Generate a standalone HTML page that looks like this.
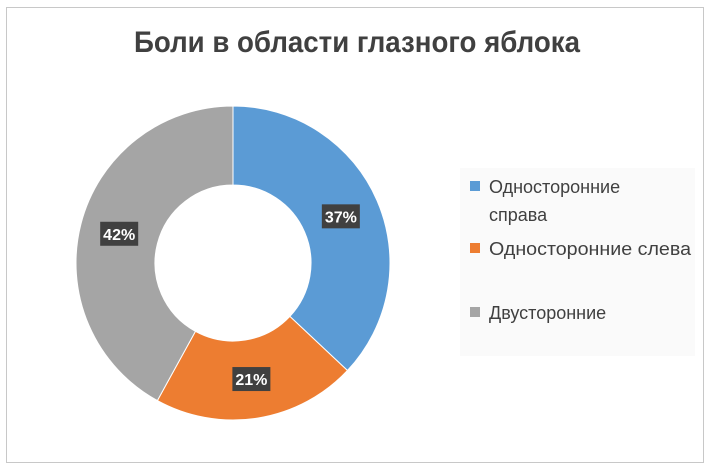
<!DOCTYPE html>
<html><head><meta charset="utf-8"><style>
body{margin:0;background:#fff;}
svg{display:block;font-family:"Liberation Sans","DejaVu Sans",sans-serif;}
</style></head><body>
<svg width="711" height="470" viewBox="0 0 711 470">
<rect x="6.5" y="7.5" width="697" height="455" fill="#fff" stroke="#c8c8c8"/>
<text x="357" y="52" text-anchor="middle" font-size="30" font-weight="bold" fill="#404040" textLength="446" lengthAdjust="spacingAndGlyphs">Боли в области глазного яблока</text>
<g id="donut"></g>
<g id="labels"></g>
<rect x="460" y="168" width="235" height="188" fill="#fafafa"/>
<rect x="470" y="181" width="10" height="10" fill="#5b9bd5"/>
<text x="489" y="193" font-size="18" fill="#404040"><tspan>Односторонние</tspan><tspan x="489" dy="28">справа</tspan></text>
<rect x="470" y="243" width="10" height="10" fill="#ed7d31"/>
<text x="489" y="255" font-size="18" fill="#404040" textLength="202" lengthAdjust="spacingAndGlyphs">Односторонние слева</text>
<rect x="470" y="307" width="10" height="10" fill="#a5a5a5"/>
<text x="489" y="319" font-size="18" fill="#404040">Двусторонние</text>
</svg>
<script>
const categories=["Односторонние справа","Односторонние слева","Двусторонние"];
const values=[37,21,42];
const valueLabels=["37%","21%","42%"];
const colors=["#5b9bd5","#ed7d31","#a5a5a5"];
const cx=233,cy=263,R=157,r=78;
const NS="http://www.w3.org/2000/svg";
const g=document.getElementById('donut'),lg=document.getElementById('labels');
const total=values.reduce((a,b)=>a+b,0);
let a0=0;
function pt(rad,a){return [cx+rad*Math.sin(a),cy-rad*Math.cos(a)];}
values.forEach((v,i)=>{
  const a1=a0+v/total*2*Math.PI;
  const large=(a1-a0)>Math.PI?1:0;
  const p1=pt(R,a0),p2=pt(R,a1),p3=pt(r,a1),p4=pt(r,a0);
  const p=document.createElementNS(NS,'path');
  p.setAttribute('d',`M${p1}A${R},${R} 0 ${large} 1 ${p2}L${p3}A${r},${r} 0 ${large} 0 ${p4}Z`);
  p.setAttribute('fill',colors[i]);
  p.setAttribute('stroke','#fff');p.setAttribute('stroke-width','1');
  
  
  g.appendChild(p);
  const m=(a0+a1)/2,lp=pt((R+r)/2,m);
  const box=document.createElementNS(NS,'rect');
  box.setAttribute('x',lp[0]-19);box.setAttribute('y',lp[1]-12);box.setAttribute('width',38);box.setAttribute('height',24);
  box.setAttribute('fill','#404040');
  
  
  lg.appendChild(box);
  const t=document.createElementNS(NS,'text');
  t.setAttribute('x',lp[0]);t.setAttribute('y',lp[1]+6);t.setAttribute('text-anchor','middle');
  t.setAttribute('font-size','16');t.setAttribute('font-weight','bold');t.setAttribute('fill','#fff');
  t.textContent=valueLabels[i];
  
  
  lg.appendChild(t);
  a0=a1;
});
</script>
</body></html>
